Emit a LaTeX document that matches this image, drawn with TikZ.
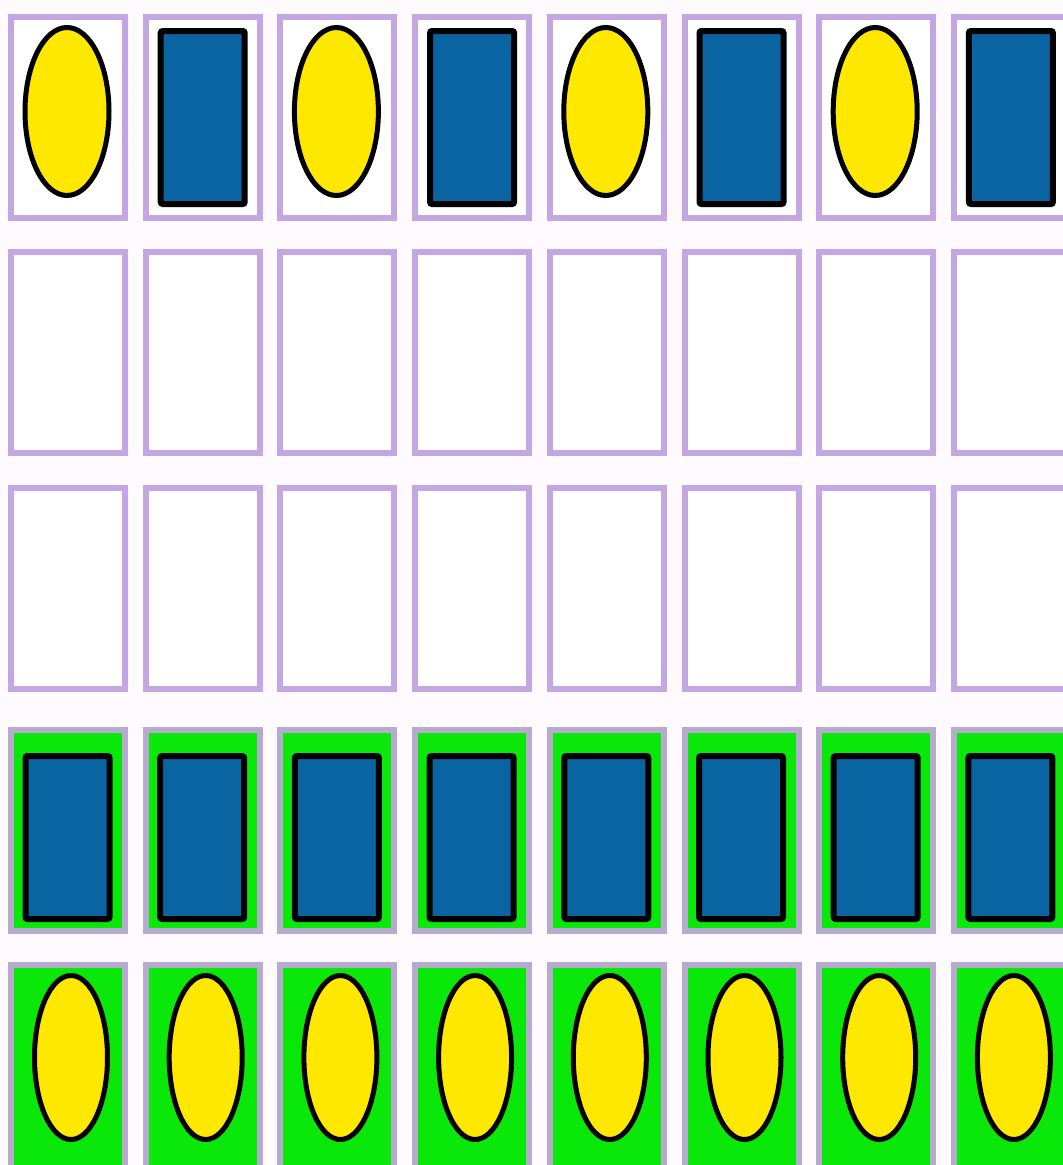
\documentclass[tikz,border=0pt]{standalone}
\definecolor{bgc}{RGB}{254,250,254}
\definecolor{lav}{RGB}{196,166,226}
\definecolor{greylav}{RGB}{182,170,206}
\definecolor{grn}{RGB}{10,232,10}
\definecolor{ylw}{RGB}{255,232,0}
\definecolor{blu}{RGB}{10,100,162}
\tikzset{
  cellbox/.style={draw=lav, line width=6pt, fill=white, rectangle, inner sep=0pt, outer sep=0pt, minimum width=114pt, minimum height=201pt},
  greencell/.style={draw=greylav, line width=6pt, fill=grn, rectangle, inner sep=0pt, outer sep=0pt, minimum width=114pt, minimum height=201pt},
  coin/.style={draw=black, line width=5pt, fill=ylw, ellipse, inner sep=0pt, outer sep=0pt},
  card/.style={draw=black, line width=6pt, fill=blu, rectangle, rounded corners=2pt, inner sep=0pt, outer sep=0pt, minimum width=84pt, minimum height=173pt},
}
\usetikzlibrary{shapes.geometric}
\begin{document}
\begin{tikzpicture}[x=1pt,y=-1pt]
\fill[bgc] (0,0) rectangle (1063,1165);
\useasboundingbox (0,0) rectangle (1063,1165);
\foreach \i in {0,...,7}{
  \pgfmathsetmacro{\xl}{8+134.7*\i}
  % rows 1-3
  \foreach \r/\yt in {1/14,2/249,3/485}{
    \node[cellbox, anchor=north west] (cell-\r-\i) at (\xl+3,\yt+3) {};
  }
  % row 4
  \node[greencell, anchor=north west] (cell-4-\i) at (\xl+3,727+3) {};
  % row 5
  \node[greencell, anchor=north west, minimum height=215pt] (cell-5-\i) at (\xl+3,962+3) {};
  % row 4 cards
  \node[card, minimum height=163pt] (card4-\i) at (\xl+59.5,727+110.5) {};
  % row 5 coins
  \node[coin, minimum width=73pt, minimum height=164pt] (coin5-\i) at (\xl+63,962+95.5) {};
}
% row 1 alternating
\foreach \i in {0,2,4,6}{
  \pgfmathsetmacro{\xl}{8+134.7*\i}
  \node[coin, minimum width=84pt, minimum height=168pt] (coin1-\i) at (\xl+59,14+97.5) {};
}
\foreach \i in {1,3,5,7}{
  \pgfmathsetmacro{\xl}{8+134.7*\i}
  \node[card] (card1-\i) at (\xl+60,14+103.5) {};
}
\end{tikzpicture}
\end{document}
